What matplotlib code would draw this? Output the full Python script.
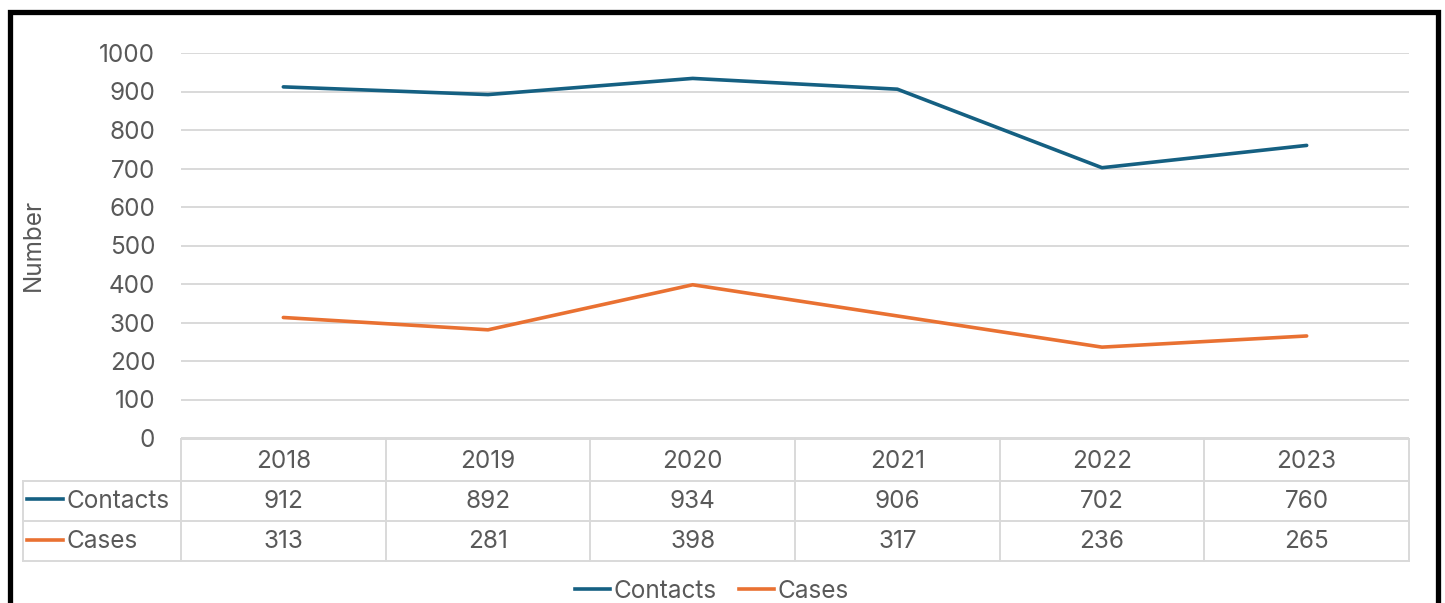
import matplotlib
matplotlib.use("Agg")
import matplotlib.pyplot as plt
from matplotlib.lines import Line2D
from matplotlib.patches import Rectangle

years = ["2018", "2019", "2020", "2021", "2022", "2023"]
contacts = [912, 892, 934, 906, 702, 760]
cases = [313, 281, 398, 317, 236, 265]
series_names = ["Contacts", "Cases"]
y_ticks = list(range(0, 1001, 100))

BLUE = "#156082"
ORANGE = "#E97132"
TEXT = "#595959"
GRID = "#D9D9D9"
FS = 17.5
LW = 2.6

plt.rcParams['font.family'] = ['Inter', 'DejaVu Sans']

W, H = 1445, 603
fig = plt.figure(figsize=(W / 100, H / 100), dpi=100)
fig.patch.set_facecolor("white")

def fx(px):
    return px / W

def fy(py):
    return 1 - py / H

L, R, T, B = 181, 1409, 53, 438
ax = fig.add_axes([fx(L), fy(B), fx(R) - fx(L), fy(T) - fy(B)])
x = list(range(len(years)))
ax.plot(x, contacts, color=BLUE, lw=LW, solid_capstyle="round", zorder=3)
ax.plot(x, cases, color=ORANGE, lw=LW, solid_capstyle="round", zorder=3)
ax.set_xlim(-0.5, len(years) - 0.5)
ax.set_ylim(0, 1000)
ax.set_yticks(y_ticks)
ax.set_yticklabels([str(v) for v in y_ticks])
ax.tick_params(axis="y", length=0, pad=18.5, labelsize=FS, labelcolor=TEXT)
ax.set_xticks([])
for s in ax.spines.values():
    s.set_visible(False)
ax.grid(axis="y", color=GRID, lw=1.4)
ax.set_axisbelow(True)

fig.text(fx(33), fy(245), "Number", rotation=90, ha="center", va="center", fontsize=FS, color=TEXT)

# Data table
col_w = (R - L) / len(years)
rows_y = [439, 481, 521, 561]
lw = 1.4
def hline(y, x0, x1):
    fig.add_artist(Line2D([fx(x0), fx(x1)], [fy(y), fy(y)], color=GRID, lw=lw, transform=fig.transFigure))
def vline(xp, y0, y1):
    fig.add_artist(Line2D([fx(xp), fx(xp)], [fy(y0), fy(y1)], color=GRID, lw=lw, transform=fig.transFigure))

hline(rows_y[0], L, R)
for y in rows_y[1:]:
    hline(y, 23, R)
vline(23, rows_y[1], rows_y[3])
for i in range(len(years) + 1):
    vline(L + i * col_w, rows_y[0], rows_y[3])

for i, yr in enumerate(years):
    cx = L + (i + 0.5) * col_w
    fig.text(fx(cx), fy(462), yr, ha="center", va="center", fontsize=FS, color=TEXT)
    fig.text(fx(cx), fy(501), str(contacts[i]), ha="center", va="center", fontsize=FS, color=TEXT)
    fig.text(fx(cx), fy(542), str(cases[i]), ha="center", va="center", fontsize=FS, color=TEXT)

for name, col, yy in [(series_names[0], BLUE, 499), (series_names[1], ORANGE, 540)]:
    fig.add_artist(Line2D([fx(27), fx(63)], [fy(yy), fy(yy)], color=col, lw=LW, transform=fig.transFigure))
    fig.text(fx(66), fy(yy + 2), name, ha="left", va="center", fontsize=FS, color=TEXT)

# Legend
handles = [Line2D([], [], color=BLUE, lw=LW), Line2D([], [], color=ORANGE, lw=LW)]
leg = fig.legend(handles, series_names, loc="center", bbox_to_anchor=(fx(712), fy(591)), ncol=2,
                 frameon=False, fontsize=FS, handlelength=1.45, handletextpad=0.15, columnspacing=0.9,
                 borderpad=0, borderaxespad=0)
for t in leg.get_texts():
    t.set_color(TEXT)

# Frame
fig.add_artist(Rectangle((fx(9.5), fy(640)), fx(1438) - fx(9.5), fy(12) - fy(640),
                         fill=False, edgecolor="black", lw=3.8, transform=fig.transFigure, clip_on=False))

fig.savefig("out.png", dpi=100)
